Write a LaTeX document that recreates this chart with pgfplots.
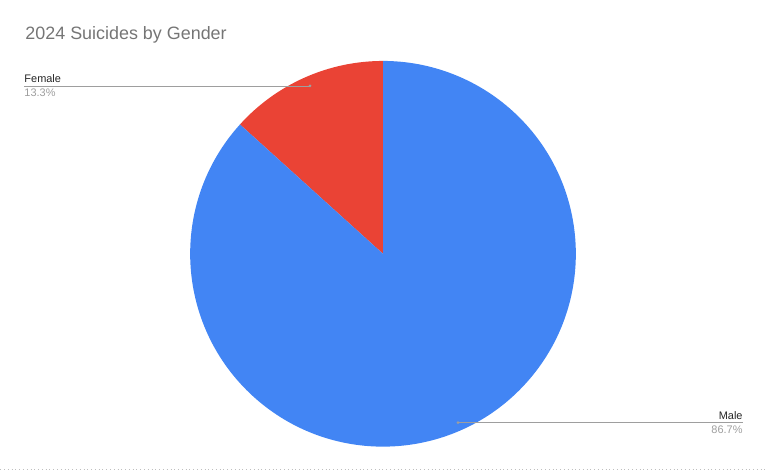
\documentclass[border=0pt]{standalone}
\usepackage{pgfplots}
\pgfplotsset{compat=1.18}
\usepackage{pgfplotstable}
\usepackage{fontspec}
\setmainfont{Liberation Sans}

\definecolor{male}{HTML}{4285F4}
\definecolor{female}{HTML}{EA4335}
\definecolor{titlegray}{HTML}{757575}
\definecolor{pctgray}{HTML}{9E9E9E}
\definecolor{linegray}{HTML}{9E9E9E}

% share in percent; pie starts at 12 o'clock, slices go counter-clockwise from Female
\pgfplotstableread{
label  value
Female 13.3
Male   86.7
}\piedata

\begin{document}
\begin{tikzpicture}
\pgfplotstablegetelem{0}{value}\of\piedata
\pgfmathsetmacro\femangle{90+3.6*\pgfplotsretval}
\begin{axis}[
    width=766bp, height=472bp, scale only axis,
    xmin=0, xmax=766, ymin=0, ymax=472,
    hide axis, clip=false,
]
% keep the whole canvas in the bounding box
\path (axis cs:0,0) rectangle (axis cs:766,472);
% slices
\fill[female] (axis cs:383,218) -- (axis cs:383,411) arc[start angle=90, end angle=\femangle, radius=193bp] -- cycle;
\fill[male] (axis cs:383,218) -- ++(\femangle:193bp) arc[start angle=\femangle, end angle=450, radius=193bp] -- cycle;
% title
\node[anchor=west, inner sep=0pt, text=titlegray, font=\fontsize{18}{21}\selectfont] at (axis cs:25,437) {2024 Suicides by Gender};
% Female leader
\draw[linegray, line width=0.7pt] (axis cs:24,386) -- (axis cs:310,386);
\fill[linegray] (axis cs:310,386) circle[radius=1.5pt];
\node[anchor=base west, inner sep=0pt, font=\fontsize{11}{13}\selectfont, text=black!85] at (axis cs:24,389) {Female};
\node[anchor=north west, inner sep=0pt, font=\fontsize{11}{13}\selectfont, text=pctgray] at (axis cs:24,383) {13.3\%};
% Male leader
\draw[linegray, line width=0.7pt] (axis cs:458,49) -- (axis cs:743,49);
\fill[linegray] (axis cs:458,49) circle[radius=1.5pt];
\node[anchor=base east, inner sep=0pt, font=\fontsize{11}{13}\selectfont, text=black!85] at (axis cs:743,52) {Male};
\node[anchor=north east, inner sep=0pt, font=\fontsize{11}{13}\selectfont, text=pctgray] at (axis cs:743,46) {86.7\%};
% bottom dotted rule
\draw[black!25, line width=0.6pt, dash pattern=on 0.8pt off 3pt] (axis cs:0,2) -- (axis cs:766,2);
\end{axis}
\end{tikzpicture}
\end{document}
